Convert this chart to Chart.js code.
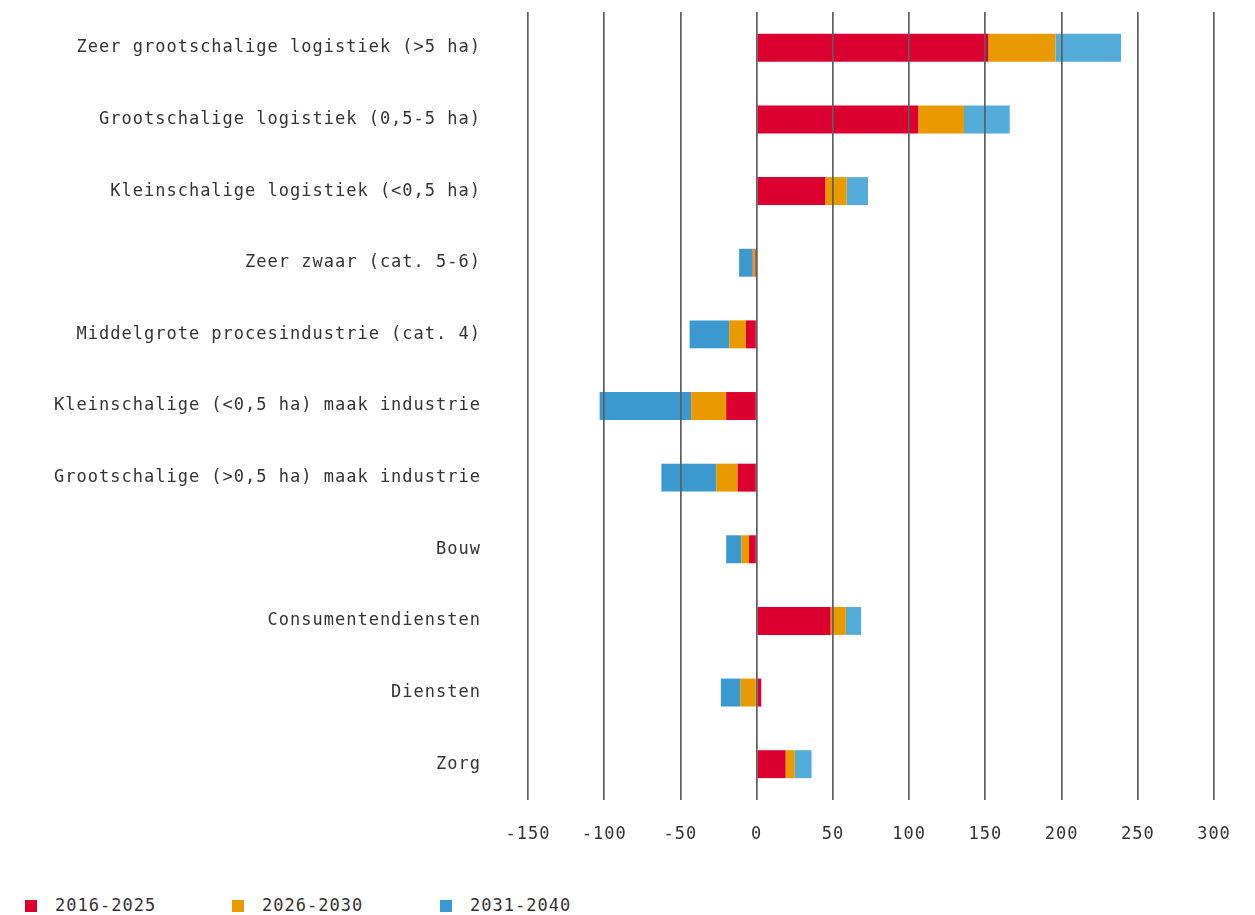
<!DOCTYPE html>
<html>
<head>
<meta charset="utf-8">
<script src="https://cdn.jsdelivr.net/npm/chart.js@4/dist/chart.umd.min.js"></script>
<style>
    body { margin: 0; background: #fff; }
    #wrap { position: relative; width: 1255px; height: 860px; }
    .legend { position: absolute; top: 894px; left: 0; width: 1255px; height: 22px;
              font-family: "DejaVu Sans Mono", monospace; font-size: 17px; letter-spacing: 1px; color: #333; }
    .legend span.item { position: absolute; top: 0; line-height: 22px; }
    .legend i { display: inline-block; width: 12px; height: 12px; margin-right: 18px; vertical-align: -1px; }
</style>
</head>
<body>
<div id="wrap"><canvas id="chart"></canvas></div>
<div class="legend" id="legend"></div>
<script>
// ── Data ────────────────────────────────────────────────
const categories = [
    'Zeer grootschalige logistiek (>5 ha)',
    'Grootschalige logistiek (0,5-5 ha)',
    'Kleinschalige logistiek (<0,5 ha)',
    'Zeer zwaar (cat. 5-6)',
    'Middelgrote procesindustrie (cat. 4)',
    'Kleinschalige (<0,5 ha) maak industrie',
    'Grootschalige (>0,5 ha) maak industrie',
    'Bouw',
    'Consumentendiensten',
    'Diensten',
    'Zorg'
];
const seriesNames = ['2016-2025', '2026-2030', '2031-2040'];
const values2016 = [152, 106, 45, -1, -7, -20, -12.5, -5, 48.5, 3, 19];
const values2026 = [44, 30, 14, -1.5, -11, -23, -14, -5, 10, -10.5, 6];
const values2031 = [43, 30, 14, -9, -26, -60, -36, -10, 10, -13, 11];
const xTicks = [-150, -100, -50, 0, 50, 100, 150, 200, 250, 300];

const RED = '#dc0031';
const ORANGE = '#e99a00';
const BLUE = '#3b99cf';
const BLUE_LIGHT = '#52abd9';
const FONT = '"DejaVu Sans Mono", monospace';

// letter spacing for the canvas text
const spacingPlugin = {
    id: 'spacing',
    beforeDraw(chart) { chart.ctx.letterSpacing = '1px'; }
};

Chart.defaults.font.family = FONT;
Chart.defaults.font.size = 17;
Chart.defaults.color = '#333';

new Chart(document.getElementById('chart'), {
    type: 'bar',
    data: {
        labels: categories,
        datasets: [
            { label: seriesNames[0], data: values2016, backgroundColor: RED },
            { label: seriesNames[1], data: values2026, backgroundColor: ORANGE },
            { label: seriesNames[2], data: values2031,
              backgroundColor: c => (c.raw >= 0 ? BLUE_LIGHT : BLUE) }
        ]
    },
    options: {
        indexAxis: 'y',
        responsive: true,
        maintainAspectRatio: false,
        animation: false,
        categoryPercentage: 1,
        barPercentage: 0.39,
        layout: { padding: { top: 12, right: 41, bottom: 16, left: 0 } },
        plugins: {
            legend: { display: false },
            tooltip: { enabled: false }
        },
        scales: {
            x: {
                stacked: true,
                min: -150,
                max: 300,
                afterBuildTicks: s => { s.ticks = xTicks.map(v => ({ value: v })); },
                grid: { color: '#5e5e5e', lineWidth: 1.7, drawTicks: false, z: 1 },
                border: { display: false },
                ticks: { padding: 24, color: '#333' },
                afterFit: s => { s.height = 44; }
            },
            y: {
                stacked: true,
                grid: { display: false },
                border: { display: false },
                ticks: { padding: 39, color: '#333' },
                afterFit: s => { s.width = 528; s.paddingTop = 0; s.paddingBottom = 0; }
            }
        }
    },
    plugins: [spacingPlugin]
});

// ── Legend ──────────────────────────────────────────────
const legendColors = [RED, ORANGE, BLUE];
const legendX = [25, 232, 440];
document.getElementById('legend').innerHTML = seriesNames.map((n, i) =>
    `<span class="item" style="left:${legendX[i]}px"><i style="background:${legendColors[i]}"></i>${n}</span>`
).join('');
</script>
</body>
</html>
